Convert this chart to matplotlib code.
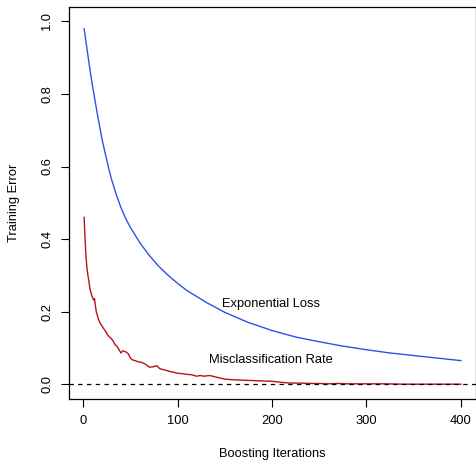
import matplotlib
matplotlib.use("Agg")
import matplotlib.pyplot as plt

plt.rcParams['font.family'] = ['Liberation Sans', 'DejaVu Sans']

exp_iter = [1, 4, 7, 10, 13, 16, 20, 23, 27, 30, 35, 40, 45, 50, 60, 70, 80, 90,
            100, 110, 120, 130, 140, 150, 175, 200, 225, 250, 275, 300, 325, 350, 375, 400]
exp_loss = [0.98, 0.925, 0.87, 0.82, 0.775, 0.73, 0.675, 0.64, 0.595, 0.565, 0.523, 0.487,
            0.457, 0.432, 0.39, 0.355, 0.325, 0.30, 0.278, 0.258, 0.242, 0.226, 0.212,
            0.198, 0.17, 0.148, 0.13, 0.117, 0.105, 0.095, 0.086, 0.079, 0.072, 0.065]

mis_iter = [1, 2, 3, 4, 5, 6, 7, 8, 9, 10, 11, 12, 13, 14, 15, 16, 18, 20, 22, 24, 26,
            28, 30, 32, 34, 36, 38, 40, 42, 44, 46, 48, 50, 52, 55, 58, 62, 66, 70, 74,
            78, 81, 85, 88, 92, 96, 100, 105, 110, 115, 120, 124, 128, 134, 140, 145,
            150, 160, 170, 180, 190, 200, 210, 220, 230, 240, 250, 260, 270, 280, 300,
            320, 340, 360, 380, 400]
mis_rate = [0.46, 0.40, 0.35, 0.32, 0.30, 0.285, 0.265, 0.255, 0.245, 0.238, 0.232,
            0.236, 0.215, 0.198, 0.19, 0.18, 0.168, 0.16, 0.152, 0.145, 0.135, 0.13,
            0.125, 0.118, 0.108, 0.104, 0.095, 0.086, 0.092, 0.09, 0.088, 0.083, 0.072,
            0.067, 0.065, 0.062, 0.06, 0.055, 0.047, 0.048, 0.051, 0.043, 0.04, 0.038,
            0.035, 0.033, 0.03, 0.029, 0.027, 0.026, 0.022, 0.024, 0.022, 0.024, 0.02,
            0.017, 0.014, 0.012, 0.011, 0.01, 0.009, 0.008, 0.005, 0.003, 0.003, 0.002,
            0.002, 0.001, 0.002, 0.001, 0.001, 0.001, 0.0, 0.0, 0.0, 0.0]

x_ticks = [0, 100, 200, 300, 400]
y_ticks = [0.0, 0.2, 0.4, 0.6, 0.8, 1.0]
y_ticklabels = ["0.0", "0.2", "0.4", "0.6", "0.8", "1.0"]

fs = 9.3
fig = plt.figure(figsize=(4.76, 4.62), dpi=100)
ax = fig.add_axes([0.145, 0.137, 0.855, 0.848])

ax.plot(exp_iter, exp_loss, color='#3050e8', lw=1.0)
ax.plot(mis_iter, mis_rate, color='#b5121b', lw=1.0)
ax.axhline(0, color='black', lw=0.9, ls=(0, (3.5, 3.5)))

ax.text(147, 0.222, "Exponential Loss", fontsize=fs, va='center', ha='left')
ax.text(133.6, 0.067, "Misclassification Rate", fontsize=fs, va='center', ha='left')

ax.set_xlim(-15, 416)
ax.set_ylim(-0.04, 1.04)
ax.set_xticks(x_ticks)
ax.set_yticks(y_ticks)
ax.set_yticklabels(y_ticklabels, rotation=90, va='center')
ax.tick_params(direction='out', length=5.5, width=0.8, labelsize=fs, pad=6)
for s in ax.spines.values():
    s.set_linewidth(0.9)

ax.set_xlabel("Boosting Iterations", fontsize=fs, labelpad=15)
ax.set_ylabel("Training Error", fontsize=fs, labelpad=15)

fig.savefig("out.png", dpi=100)
